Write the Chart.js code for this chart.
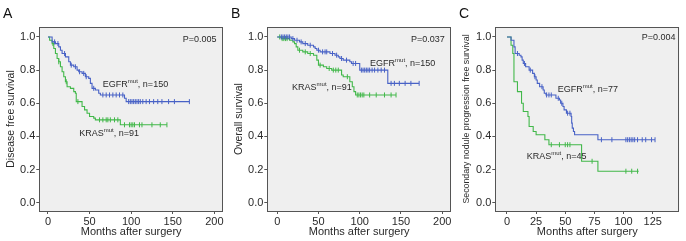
<!DOCTYPE html>
<html><head><meta charset="utf-8">
<script src="https://cdn.jsdelivr.net/npm/chart.js@4"></script>
<style>
html,body{margin:0;padding:0;background:#fff;width:686px;height:241px;overflow:hidden}
.p{position:absolute;top:0;height:241px}
canvas{display:block}
</style></head><body>
<div class="p" style="left:0"><canvas id="cA" width="228" height="241"></canvas></div>
<div class="p" style="left:228px"><canvas id="cB" width="228" height="241"></canvas></div>
<div class="p" style="left:456px"><canvas id="cC" width="230" height="241"></canvas></div>
<script>
// ---------- data ----------
const yTickValues = [0, 0.2, 0.4, 0.6, 0.8, 1.0];
const abXTickValues = [0, 50, 100, 150, 200];
const cXTickValues = [0, 25, 50, 75, 100, 125];

// Panel A: disease free survival
const aEgfrTime = [0,5,9,13,15,17,21,25,27,31,35,37,41,45,49,51,53,57,61,63,92,94];
const aEgfrSurv = [1.0,0.97,0.96,0.94,0.92,0.90,0.88,0.85,0.83,0.82,0.80,0.79,0.78,0.76,0.75,0.72,0.69,0.68,0.66,0.65,0.63,0.61];
const aEgfrEnd = 170;
const aEgfrCensor = [8,12,20,28,33,38,43,46,55,66,70,74,78,82,86,90,97,99,101,103,105,107,109,111,114,118,122,127,132,137,145,152,170];
const aKrasTime = [0,2,5,7,9,11,13,15,17,19,21,23,27,31,33,34,41,44,47,50,55,57,87];
const aKrasSurv = [1.0,0.98,0.96,0.93,0.90,0.87,0.85,0.82,0.79,0.76,0.73,0.70,0.69,0.67,0.66,0.61,0.58,0.56,0.54,0.52,0.51,0.50,0.47];
const aKrasEnd = 143;
const aKrasCensor = [6,13,22,36,62,66,70,72,75,80,84,92,98,100,102,104,110,113,125,135,143];

// Panel B: overall survival
const bEgfrTime = [0,17,21,27,31,37,44,46,48,52,64,70,74,76,80,88,90,100,134];
const bEgfrSurv = [1.0,0.99,0.98,0.97,0.96,0.95,0.94,0.93,0.92,0.91,0.90,0.89,0.88,0.87,0.86,0.85,0.84,0.80,0.72];
const bEgfrEnd = 172;
const bEgfrCensor = [5,7,9,11,13,15,19,24,29,34,40,50,55,58,60,67,72,78,84,92,95,102,104,106,108,110,112,115,118,122,126,130,138,142,148,155,162,172];
const bKrasTime = [0,5,15,19,21,23,25,31,37,44,48,50,56,60,66,78,80,88,91,93,95];
const bKrasSurv = [1.0,0.99,0.98,0.97,0.96,0.94,0.92,0.91,0.90,0.89,0.86,0.83,0.82,0.81,0.80,0.77,0.76,0.73,0.70,0.67,0.65];
const bKrasEnd = 144;
const bKrasCensor = [3,6,8,10,12,27,34,40,52,63,68,71,74,85,97,99,101,103,105,112,120,130,138,144];

// Panel C: secondary nodule progression free survival
const cEgfrTime = [0,3.5,6,7,10.5,12,13,14,16,19,22,23.5,25,26,28,31,32,33.5,42,45,46,48,49,51,55,55.5,56,57,58,78];
const cEgfrSurv = [1.0,0.98,0.94,0.90,0.89,0.88,0.86,0.84,0.82,0.80,0.78,0.76,0.74,0.72,0.70,0.68,0.66,0.65,0.63,0.62,0.60,0.58,0.56,0.54,0.52,0.48,0.45,0.43,0.41,0.38];
const cEgfrEnd = 127;
const cEgfrCensor = [9,15,20,24,30,34,36,38,44,47,52,54,81,90,102,103.5,105,106.5,108,109.5,112,116,119,124,127];
const cKrasTime = [0,3.5,5,6,9,12.5,14,18,19,22.5,25,32.5,36,64,78];
const cKrasSurv = [1.0,0.95,0.90,0.73,0.67,0.60,0.55,0.52,0.46,0.43,0.41,0.38,0.35,0.25,0.19];
const cKrasEnd = 113;
const cKrasCensor = [38,45,50,52,54,73,102,107,112];

// ---------- style ----------
const FONT = "'Liberation Sans', Arial, Helvetica, sans-serif";
const BLUE = 'rgb(72,98,198)';
const GREEN = 'rgb(66,184,74)';
const TXT = '#2a2a2a';
const AXIS = '#555';

function stepAt(times, surv, t) {
  let s = surv[0];
  for (let i = 0; i < times.length; i++) if (times[i] <= t) s = surv[i];
  return s;
}

const framePlugin = {
  id: 'frame',
  beforeDraw(chart) {
    const {ctx, chartArea: a} = chart;
    ctx.save();
    ctx.fillStyle = '#efefef';
    ctx.fillRect(a.left, a.top, a.right - a.left, a.bottom - a.top);
    ctx.restore();
  },
  afterDraw(chart) {
    const {ctx, chartArea: a} = chart;
    const o = chart.options.plugins.frame;
    ctx.save();
    ctx.strokeStyle = AXIS;
    ctx.lineWidth = 1;
    ctx.strokeRect(Math.round(a.left) + 0.5, Math.round(a.top) + 0.5, Math.round(a.right - a.left) - 1, Math.round(a.bottom - a.top));
    ctx.fillStyle = TXT;
    ctx.textBaseline = 'middle';
    ctx.textAlign = 'left';
    const xs = chart.scales.x, ys = chart.scales.y;
    for (const n of o.notes) {
      let x = xs.getPixelForValue(n.x), y = ys.getPixelForValue(n.y);
      ctx.font = '9px ' + FONT;
      ctx.fillText(n.text, x, y);
      x += ctx.measureText(n.text).width;
      if (n.sup) {
        ctx.font = '6px ' + FONT;
        ctx.fillText(n.sup, x, y - 3);
        x += ctx.measureText(n.sup).width;
        ctx.font = '9px ' + FONT;
        ctx.fillText(n.rest, x, y);
      }
    }
    ctx.font = '14px ' + FONT;
    ctx.textBaseline = 'alphabetic';
    ctx.fillStyle = '#111';
    ctx.fillText(o.letter, o.letterX, 18);
    ctx.restore();
  }
};

function makePanel(id, cfg) {
  const datasets = [];
  for (const s of cfg.series) {
    const pts = s.time.map((t, i) => ({x: t, y: s.surv[i]}));
    pts.push({x: s.end, y: s.surv[s.surv.length - 1]});
    datasets.push({type: 'line', data: pts, stepped: true, borderColor: s.color, borderWidth: 1.1,
      pointRadius: 0, fill: false, tension: 0});
    datasets.push({type: 'scatter', data: s.censor.map(t => ({x: t, y: stepAt(s.time, s.surv, t)})),
      pointStyle: 'line', rotation: 90, radius: 2.5, borderColor: s.color, borderWidth: 1,
      backgroundColor: s.color, showLine: false});
  }
  const canvas = document.getElementById(id);
  const W = canvas.width;
  const axisFont = {family: FONT, size: 11};
  new Chart(canvas, {
    type: 'line',
    data: {datasets},
    plugins: [framePlugin],
    options: {
      responsive: false, animation: false, events: [],
      layout: {padding: {left: 0, right: W - 223.3, top: 27, bottom: 0}},
      plugins: {legend: {display: false}, tooltip: {enabled: false},
        frame: {notes: cfg.notes, letter: cfg.letter, letterX: cfg.letterX}},
      scales: {
        x: {
          type: 'linear', min: cfg.xMin, max: cfg.xMax,
          afterBuildTicks: sc => { sc.ticks = cfg.xTicks.map(v => ({value: v})); },
          afterFit: sc => { sc.height = 30; },
          grid: {display: true, drawOnChartArea: false, drawTicks: true, tickLength: 3, color: AXIS, tickColor: AXIS},
          border: {display: false},
          ticks: {font: axisFont, color: TXT, padding: 1, maxRotation: 0, autoSkip: false, callback: v => String(v)},
          title: {display: true, text: 'Months after surgery', font: axisFont, color: TXT, padding: {top: 0, bottom: 2}}
        },
        y: {
          type: 'linear', min: -0.05, max: 1.06,
          afterBuildTicks: sc => { sc.ticks = yTickValues.map(v => ({value: v})); },
          afterFit: sc => { sc.width = 39.3; },
          grid: {display: true, drawOnChartArea: false, drawTicks: true, tickLength: 3, color: AXIS, tickColor: AXIS},
          border: {display: false},
          ticks: {font: axisFont, color: TXT, padding: 1, autoSkip: false, callback: v => Number(v).toFixed(1)},
          title: {display: true, text: cfg.yTitle, font: {family: FONT, size: cfg.yTitleSize}, color: TXT, padding: {top: 5, bottom: 0}}
        }
      }
    }
  });
}

makePanel('cA', {
  letter: 'A', letterX: 3, xMin: -10.4, xMax: 210.4, xTicks: abXTickValues, yTitle: 'Disease free survival', yTitleSize: 10.5,
  series: [
    {time: aEgfrTime, surv: aEgfrSurv, end: aEgfrEnd, censor: aEgfrCensor, color: BLUE},
    {time: aKrasTime, surv: aKrasSurv, end: aKrasEnd, censor: aKrasCensor, color: GREEN}
  ],
  notes: [
    {x: 162, y: 0.986, text: 'P=0.005'},
    {x: 66, y: 0.715, text: 'EGFR', sup: 'mut', rest: ', n=150'},
    {x: 37.6, y: 0.42, text: 'KRAS', sup: 'mut', rest: ', n=91'}
  ]
});
makePanel('cB', {
  letter: 'B', letterX: 3, xMin: -12, xMax: 210.6, xTicks: abXTickValues, yTitle: 'Overall survival', yTitleSize: 10.5,
  series: [
    {time: bEgfrTime, surv: bEgfrSurv, end: bEgfrEnd, censor: bEgfrCensor, color: BLUE},
    {time: bKrasTime, surv: bKrasSurv, end: bKrasEnd, censor: bKrasCensor, color: GREEN}
  ],
  notes: [
    {x: 162, y: 0.986, text: 'P=0.037'},
    {x: 112.5, y: 0.842, text: 'EGFR', sup: 'mut', rest: ', n=150'},
    {x: 18, y: 0.697, text: 'KRAS', sup: 'mut', rest: ', n=91'}
  ]
});
makePanel('cC', {
  letter: 'C', letterX: 3, xMin: -10, xMax: 147.8, xTicks: cXTickValues, yTitle: 'Secondary nodule progression free survival', yTitleSize: 8.8,
  series: [
    {time: cEgfrTime, surv: cEgfrSurv, end: cEgfrEnd, censor: cEgfrCensor, color: BLUE},
    {time: cKrasTime, surv: cKrasSurv, end: cKrasEnd, censor: cKrasCensor, color: GREEN}
  ],
  notes: [
    {x: 115.6, y: 0.998, text: 'P=0.004'},
    {x: 43.5, y: 0.685, text: 'EGFR', sup: 'mut', rest: ', n=77'},
    {x: 16.9, y: 0.281, text: 'KRAS', sup: 'mut', rest: ', n=45'}
  ]
});
</script>
</body></html>
